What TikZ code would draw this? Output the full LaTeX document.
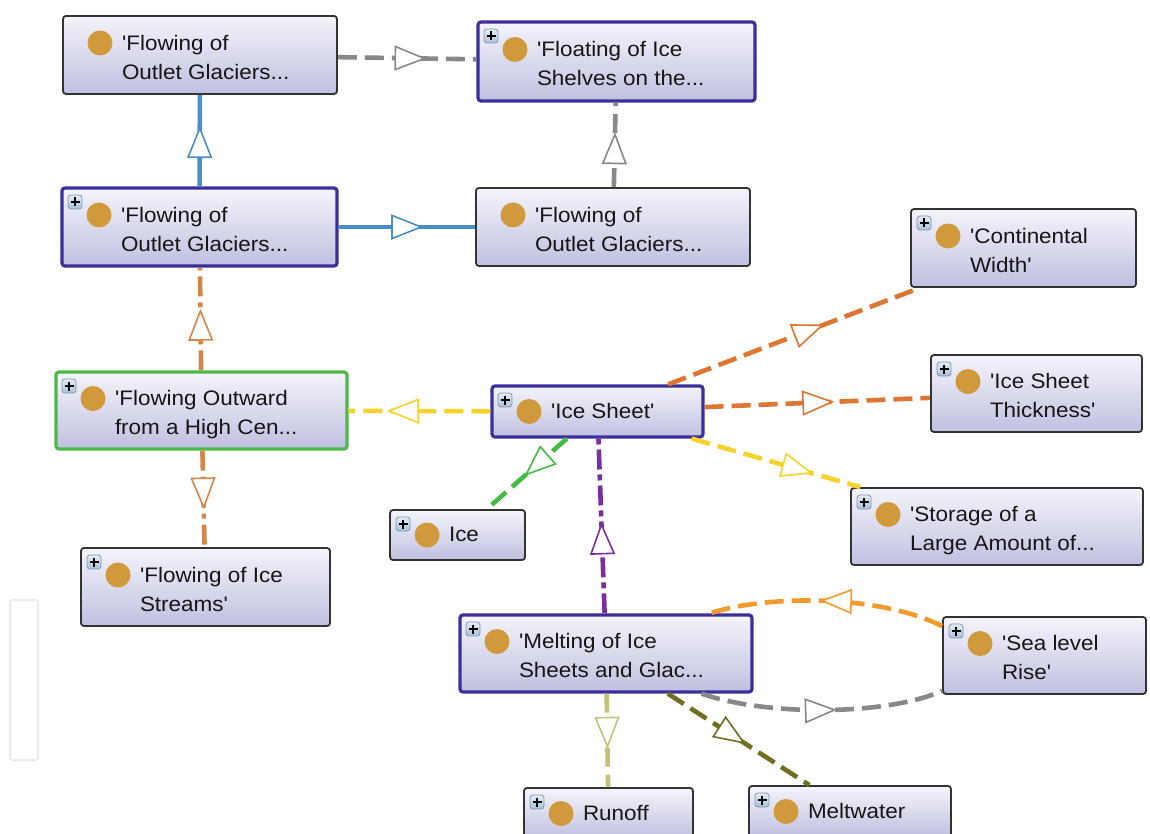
\documentclass[tikz,border=0pt]{standalone}
\usepackage{fontspec}
\newfontfamily\labelfont{Liberation Sans}[FakeStretch=1.07]
\usetikzlibrary{arrows.meta,decorations.markings,calc}

\definecolor{boxtop}{HTML}{F4F4FB}
\definecolor{boxbot}{HTML}{C0C0E0}
\definecolor{edgegray}{HTML}{333333}
\definecolor{focuspurple}{HTML}{3B2F9C}
\definecolor{rootgreen}{HTML}{4DB848}
\definecolor{textcol}{HTML}{161616}
\definecolor{dotgold}{HTML}{D09A3C}
\definecolor{plustop}{HTML}{E6EEF6}
\definecolor{plusbot}{HTML}{A8C0D8}
\definecolor{plusedge}{HTML}{7C98B4}
\definecolor{blueline}{HTML}{4A8EC8}
\definecolor{grayline}{HTML}{888888}
\definecolor{yellowline}{HTML}{F7D228}
\definecolor{orangeline}{HTML}{DC7632}
\definecolor{peruline}{HTML}{D4874A}
\definecolor{greenline}{HTML}{44BB44}
\definecolor{purpleline}{HTML}{7A2FA0}
\definecolor{amberline}{HTML}{F39A2C}
\definecolor{khakiline}{HTML}{C2C27A}
\definecolor{oliveline}{HTML}{6F6F22}

% gold bullet of a concept box, on its first text line
\newcommand\dotmark{\fill[dotgold] ($(path picture bounding box.west)+(37,\dotrow)$) circle (12.5pt);}
% small expand button in the top left corner
\newcommand\plusmark{%
  \path ($(path picture bounding box.north west)+(13,14)$) coordinate (pm);
  \draw[draw=plusedge, line width=0.8pt, top color=plustop, bottom color=plusbot]
    ($(pm)+(-7,-7)$) rectangle ($(pm)+(7,7)$);
  \draw[line width=2pt, black] ($(pm)+(-4.5,0)$) -- ($(pm)+(4.5,0)$)
    ($(pm)+(0,-4.5)$) -- ($(pm)+(0,4.5)$);}
% label of a concept box: fixed width, text indented past the bullet
\newcommand\ctext[3][-4pt]{\makebox[#2][l]{\hspace{59pt}\raisebox{#1}[\height][\depth]{\begin{tabular}{@{}l@{}}#3\end{tabular}}}}

\tikzset{
  dotrow/.store in=\dotrow, dotrow=-12,
  concept/.style={rectangle, rounded corners=3pt, inner sep=0pt,
    top color=boxtop, bottom color=boxbot, draw=edgegray, line width=1.8pt,
    text=textcol, font=\labelfont\fontsize{21}{29}\selectfont,
    path picture={\dotmark}},
  conceptplus/.style={concept, path picture={\dotmark\plusmark}},
  oneline/.style={dotrow=0},
  focus/.style={draw=focuspurple, line width=3.2pt},
  root/.style={draw=rootgreen, line width=3.2pt},
  link/.style={line width=4.6pt},
  dashlink/.style={link, dash pattern=on 19pt off 8pt},
  dashdotlink/.style={link, dash pattern=on 20pt off 6pt on 5pt off 6pt},
  tip at/.style={postaction={decorate, decoration={markings,
    mark=at position #1 with {\arrow{Triangle[length=32pt,width=25pt,line width=1.6pt,fill=white]}}}}},
  sidepanel/.style={draw=black!8, line width=2pt, rounded corners=2pt, inner sep=0pt},
}

\begin{document}
\begin{tikzpicture}[x=1pt, y=-1pt]
\useasboundingbox[fill=white] (0,0) rectangle (1150,834);

% concept boxes
\node[concept, minimum height=78pt] (fog1) at (200,55) {\ctext{274pt}{'Flowing of\\Outlet Glaciers...}};
\node[conceptplus, focus, minimum height=79pt] (fis) at (616.5,61.5) {\ctext{277pt}{'Floating of Ice\\Shelves on the...}};
\node[conceptplus, focus, minimum height=78pt] (fog2) at (199.5,227) {\ctext{275pt}{'Flowing of\\Outlet Glaciers...}};
\node[concept, minimum height=78pt] (fog3) at (613,227) {\ctext{274pt}{'Flowing of\\Outlet Glaciers...}};
\node[conceptplus, minimum height=78pt] (cw) at (1023.5,248) {\ctext{225pt}{'Continental\\Width'}};
\node[conceptplus, root, minimum height=77pt] (fohc) at (201.5,410.5) {\ctext{291pt}{'Flowing Outward\\from a High Cen...}};
\node[conceptplus, focus, oneline, minimum height=51pt] (is) at (597.5,411.5) {\ctext[-1pt]{211pt}{'Ice Sheet'}};
\node[conceptplus, minimum height=77pt] (ist) at (1036.5,393.5) {\ctext{211pt}{'Ice Sheet\\Thickness'}};
\node[conceptplus, oneline, minimum height=50pt] (ice) at (457.5,535) {\ctext[-1pt]{135pt}{Ice}};
\node[conceptplus, minimum height=77pt] (sla) at (997,526.5) {\ctext{292pt}{'Storage of a\\Large Amount of...}};
\node[conceptplus, minimum height=78pt] (fistr) at (205.5,587) {\ctext{249pt}{'Flowing of Ice\\Streams'}};
\node[conceptplus, focus, minimum height=77pt] (mis) at (606,653.5) {\ctext{292pt}{'Melting of Ice\\Sheets and Glac...}};
\node[conceptplus, minimum height=77pt] (slr) at (1044.5,655.5) {\ctext{203pt}{'Sea level\\Rise'}};
\node[conceptplus, oneline, minimum height=51pt] (runoff) at (608.5,813.5) {\ctext[-1pt]{169pt}{Runoff}};
\node[conceptplus, oneline, minimum height=51pt] (melt) at (850,811.5) {\ctext[-1pt]{202pt}{Meltwater}};

% faint empty panel on the left edge
\node[sidepanel, minimum width=28pt, minimum height=160pt] (panel) at (24,680) {};

% relations
\draw[dashlink, grayline, tip at=0.64] (fog1) -- (fis);
\draw[link, blueline, tip at=0.66] (fog2) -- (fog1);
\draw[link, blueline, tip at=0.62] (fog2) -- (fog3);
\draw[dashlink, grayline, tip at=0.65] (fog3) -- (fis);
\draw[dashdotlink, peruline, tip at=0.6] (fohc) -- (fog2);
\draw[dashdotlink, peruline, tip at=0.61] (fohc) -- (fistr);
\draw[dashlink, yellowline, tip at=0.73] (is) -- (fohc);
\draw[dashlink, orangeline, tip at=0.62] (is) -- (cw);
\draw[dashlink, orangeline, tip at=0.575] (is) -- (ist);
\draw[dashlink, yellowline, tip at=0.72] (is) -- (sla);
\draw[dashlink, greenline, tip at=0.53] (is) -- (ice);
\draw[link, purpleline, dash pattern=on 20pt off 5pt on 6pt off 5pt, tip at=0.52] (mis) -- (is);
\draw[dashlink, amberline, tip at=0.53]
  ($(slr.north west)+(0,10)$) .. controls (880,595) and (770,594) .. ($(mis.north east)+(-44,0)$);
\draw[dashlink, grayline, tip at=0.56]
  ($(mis.south east)+(-52,0)$) .. controls (765,716) and (885,716) .. ($(slr.south west)+(0,-4)$);
\draw[dashlink, khakiline, tip at=0.59] (mis) -- (runoff);
\draw[dashlink, oliveline, tip at=0.55] (mis) -- (melt);
\end{tikzpicture}
\end{document}
